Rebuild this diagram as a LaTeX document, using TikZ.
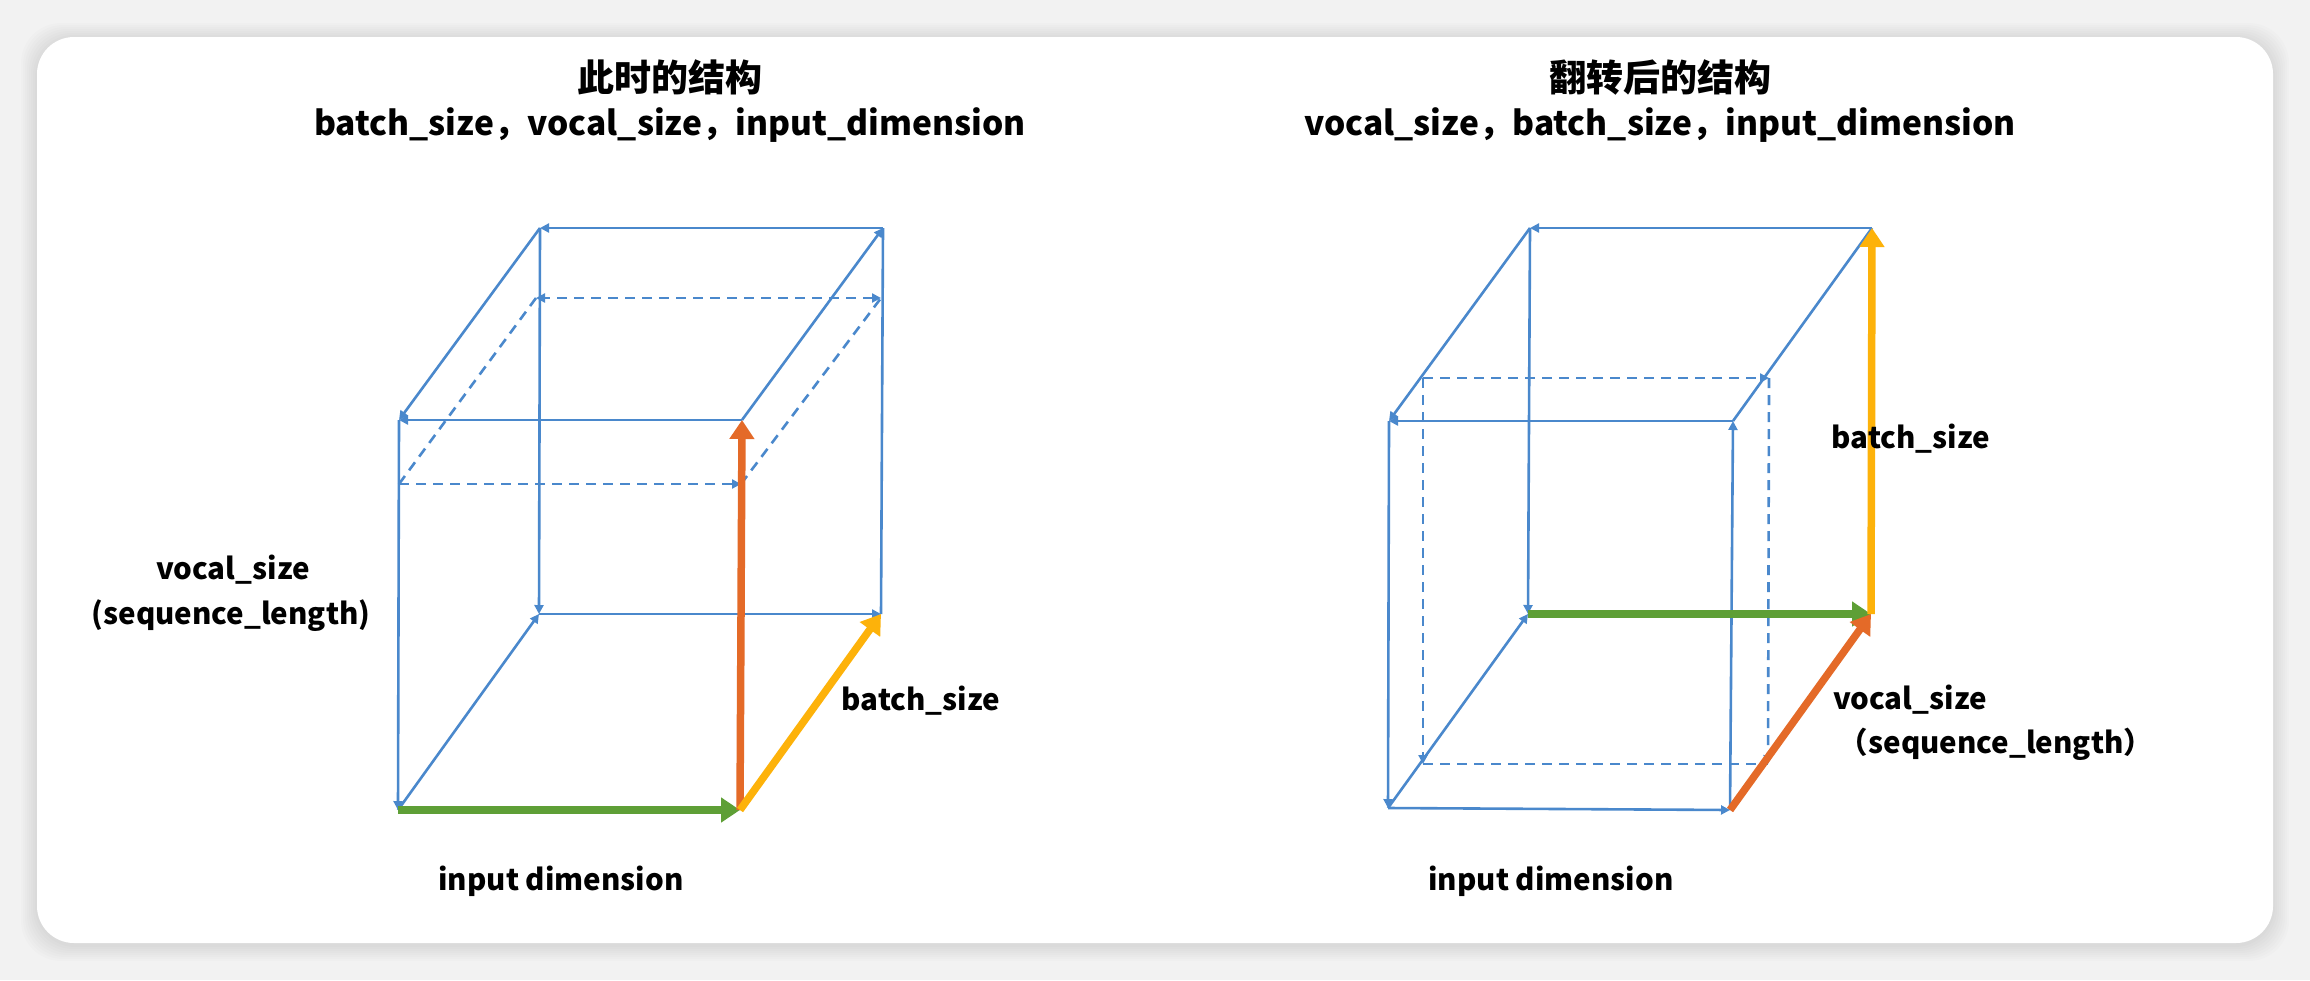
\documentclass[tikz,border=0pt]{standalone}
\usepackage{fontspec}
\setmainfont{Noto Sans CJK SC}
\usetikzlibrary{arrows.meta}
\definecolor{cubeblue}{HTML}{4A88CC}
\definecolor{arrorange}{HTML}{E46A28}
\definecolor{arryellow}{HTML}{FDB20A}
\definecolor{arrgreen}{HTML}{5E9F36}
\definecolor{outerbg}{HTML}{F2F2F2}
\tikzset{
  edge/.style={draw=cubeblue, line width=2.6pt},
  dashedge/.style={edge, dash pattern=on 10pt off 7pt},
  tipb/.tip={Triangle[length=9pt,width=9pt]},
  bigarrow/.style={line width=7.5pt, -{Triangle[length=19pt,width=24pt]}},
  title/.style={font=\fontsize{37}{44}\selectfont\bfseries, text=black, inner sep=0pt},
  subtitle/.style={font=\fontsize{33.5}{40}\selectfont\bfseries, text=black, inner sep=0pt},
  label/.style={font=\fontsize{29.5}{36}\selectfont\bfseries, text=black, inner sep=0pt},
}
\begin{document}
\begin{tikzpicture}[x=1pt,y=-1pt]
\useasboundingbox (0,0) rectangle (2310,980);
\fill[outerbg] (0,0) rectangle (2310,980);
% soft shadow of the panel
\foreach \i in {1,...,8}{
  \fill[black, opacity=0.012, rounded corners=40pt] (37-2*\i,39-2*\i) rectangle (2273+2*\i,945+2*\i);
}
\fill[white, rounded corners=37pt] (37,37) rectangle (2273,943);

% ---------- titles ----------
\node[title] (t1) at (670,77) {此时的结构};
\node[subtitle] (t1b) at (670,125) {batch\_size，vocal\_size，input\_dimension};
\node[title] (t2) at (1660,77) {翻转后的结构};
\node[subtitle] (t2b) at (1660,125) {vocal\_size，batch\_size，input\_dimension};

% ---------- left cube ----------
\coordinate (LBTL) at (540,228);
\coordinate (LBTR) at (883,228);
\coordinate (LFTL) at (399,420);
\coordinate (LFTR) at (742,420);
\coordinate (LFBL) at (398,810);
\coordinate (LFBR) at (740,810);
\coordinate (LBBL) at (539,614);
\coordinate (LBBR) at (881,614);
\coordinate (LdBL) at (536,298);
\coordinate (LdBR) at (881,298);
\coordinate (LdFL) at (399,484);
\coordinate (LdFR) at (741,484);

\draw[dashedge] (LdFL) -- (LdBL);
\draw[dashedge] (LdFR) -- (LdBR);
\draw[dashedge, {tipb}-{tipb}] (LdBR) -- (LdBL);
\draw[dashedge, -{tipb}] (LdFL) -- (LdFR);

\draw[edge, -{tipb}] (LBTR) -- (LBTL);
\draw[edge, -{tipb}] (LFTR) -- (LBTR);
\draw[edge, -{tipb}] (LBTL) -- (LFTL);
\draw[edge, -{tipb}] (LFTR) -- (LFTL);
\draw[edge, -{tipb}] (LFTL) -- (LFBL);
\draw[edge, -{tipb}] (LBTL) -- (LBBL);
\draw[edge] (LBTR) -- (LBBR);
\draw[edge, -{tipb}] (LFBL) -- (LBBL);
\draw[edge, -{tipb}] (LBBL) -- (LBBR);

\draw[bigarrow, arrgreen] (LFBL) -- (LFBR);
\draw[bigarrow, arrorange] (LFBR) -- (LFTR);
\draw[bigarrow, arryellow] (LFBR) -- (LBBR);

\node[label] (lvs) at (233,570) {vocal\_size};
\node[label] (lsl) at (231,616) {(sequence\_length)};
\node[label] (lbs) at (921,701) {batch\_size};
\node[label] (lid) at (561,881) {input dimension};

% ---------- right cube ----------
\coordinate (RBTL) at (1530,228);
\coordinate (RBTR) at (1872,228);
\coordinate (RFTL) at (1389,421);
\coordinate (RFTR) at (1733,421);
\coordinate (RFBL) at (1388,808);
\coordinate (RFBR) at (1730,810);
\coordinate (RBBL) at (1528,614);
\coordinate (RBBR) at (1871,614);
\coordinate (RdTL) at (1423,378);
\coordinate (RdTR) at (1769,378);
\coordinate (RdBL) at (1423,764);
\coordinate (RdBR) at (1768,764);

\draw[dashedge, -{tipb}] (RdTL) -- (RdTR);
\draw[dashedge, -{tipb}] (RdTL) -- (RdBL);
\draw[dashedge, -{tipb}] (RdTR) -- (RdBR);
\draw[dashedge] (RdBL) -- (RdBR);

\draw[edge, -{tipb}] (RBTR) -- (RBTL);
\draw[edge, -{tipb}] (RBTL) -- (RFTL);
\draw[edge, -{tipb}] (RFTR) -- (RFTL);
\draw[edge] (RBTR) -- (RFTR);
\draw[edge, -{tipb}] (RFBR) -- (RFTR);
\draw[edge, -{tipb}] (RFTL) -- (RFBL);
\draw[edge, -{tipb}] (RBTL) -- (RBBL);
\draw[edge, -{tipb}] (RFBL) -- (RBBL);
\draw[edge, -{tipb}] (RFBL) -- (RFBR);

\draw[bigarrow, arrgreen] (RBBL) -- (RBBR);
\draw[bigarrow, arryellow] (RBBR) -- (RBTR);
\draw[bigarrow, arrorange] (RFBR) -- (RBBR);

\node[label] (rbs) at (1911,439) {batch\_size};
\node[label] (rvs) at (1910,700) {vocal\_size};
\node[label] (rsl) at (1996,744) {（sequence\_length）};
\node[label] (rid) at (1551,881) {input dimension};
\end{tikzpicture}
\end{document}
